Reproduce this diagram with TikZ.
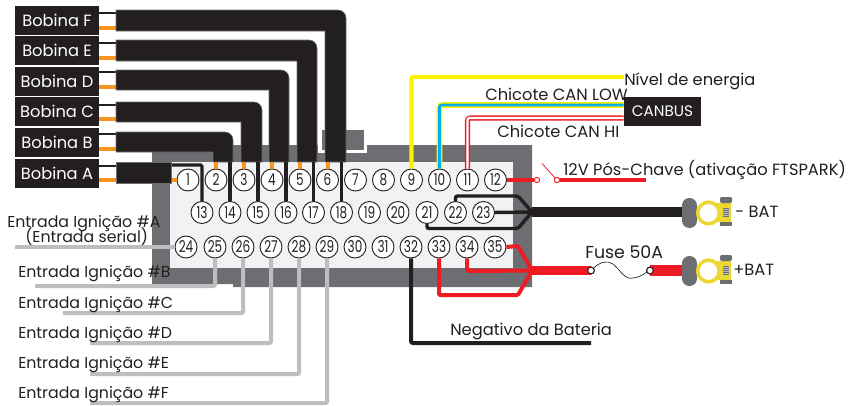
\documentclass[tikz,border=0pt]{standalone}
\usepackage{fontspec}
\usepackage{graphicx}
\setmainfont{Poppins}
\definecolor{ink}{HTML}{231F20}
\definecolor{housing}{HTML}{6D6E71}
\definecolor{panel}{HTML}{F1F2F4}
\definecolor{orng}{HTML}{F7941D}
\definecolor{rd}{HTML}{ED1C24}
\definecolor{ylw}{HTML}{FFF200}
\definecolor{blu}{HTML}{00AEEF}
\definecolor{lgray}{HTML}{BCBEC0}
\definecolor{brass}{HTML}{EBD834}
\newcommand{\coilbundle}[4]{% top, bottom, inner x, outer x
  \fill[ink,draw=housing,line width=0.4pt] (116,#1) -- ({#4-8},#1) .. controls ({#4-3.5},#1) and (#4,{#1+3.5}) .. (#4,{#1+8}) -- (#4,162) -- (#3,162) -- (#3,#2) -- (116,#2) -- cycle;}
\newcommand{\pinnum}[1]{\scalebox{0.74}[1]{#1}}
\newcommand{\terminal}[1]{%
  \begin{scope}[shift={(0,#1)}]
    \fill[housing,rounded corners=5.5pt] (682,-15) rectangle (697,15);
    \fill[brass] (714,-10) -- (731,-10) -- (731,9) -- (714,9) -- cycle;
    \fill[housing,rounded corners=1pt] (720,-16) rectangle (732,-10);
    \fill[housing] (720,9) rectangle (732,13);
    \fill[lgray] (723,-5) rectangle (729,4);
    \foreach \s in {-5,-3,...,4} \draw[housing,line width=0.5pt] (723,\s) -- (729,\s);
    \draw[brass,line width=2.7pt,fill=white] (708.5,0) circle[radius=10.8];
  \end{scope}}
\tikzset{
  coil/.style={fill=ink,text=white,minimum width=63pt,minimum height=21.75pt,inner sep=0,font=\fontsize{12.2}{14}\selectfont},
  pin/.style={circle,draw=ink,line width=0.7pt,fill=white,minimum size=16.5pt,inner sep=0,font=\fontsize{12.2}{12}\selectfont,text=ink},
  lbl/.style={inner sep=0,text=ink,font=\fontsize{12.2}{13}\selectfont,anchor=base west},
  ign/.style={lbl,font=\fontsize{11.85}{13}\selectfont},
  blk/.style={draw=ink,line width=2.3pt},
  stub/.style={draw=ink,line width=1.8pt},
  org/.style={draw=orng,line width=3pt},
  gry/.style={draw=lgray,line width=3pt,rounded corners=1pt},
  redw/.style={draw=rd,line width=3pt,rounded corners=1pt},
  harn/.style={draw=ink,line width=2.6pt,rounded corners=1.5pt},
  tinydot/.style={circle,fill=white,line width=0.75pt,minimum size=4pt,inner sep=0},
  fusedot/.style={circle,draw=ink,fill=white,line width=0.75pt,minimum size=5pt,inner sep=0}
}
\begin{document}
\begin{tikzpicture}[x=0.75pt,y=-0.75pt]
\useasboundingbox (0,0) rectangle (851,405);
% housing
\fill[housing] (152,152) -- (233,152) -- (233,145) -- (532,145) -- (532,287) -- (233,287) -- (233,284) -- (152,284) -- cycle;
\fill[white] (318,130) rectangle (367,152.5);
\fill[housing] (322,130) rectangle (364,150);
\fill[panel] (170,162) rectangle (513,268);
% coil labels
\node[coil] (bF) at (57,20.5) {Bobina F};
\node[coil] (bE) at (57,50.5) {Bobina E};
\node[coil] (bD) at (57,81.5) {Bobina D};
\node[coil] (bC) at (57,111.5) {Bobina C};
\node[coil] (bB) at (57,142.5) {Bobina B};
\node[coil] (bA) at (57,173.5) {Bobina A};
% stubs
\foreach \n/\a/\b in {bF/12.7/28.3,bE/43/58,bD/72/87,bC/105/119,bB/134/149,bA/166/180}{
  \draw[stub] (\n.east |- 0,\a) -- (117,\a);
  \draw[org] (\n.east |- 0,\b) -- (117,\b);
}
% bundles
\coilbundle{10}{31}{325}{346}
\coilbundle{40}{61}{297}{317}
\coilbundle{70}{90}{269}{289}
\coilbundle{102}{122}{241}{262}
\coilbundle{132}{152}{213}{233}
% pins
\foreach \n/\x in {1/188,2/216,3/244,4/272,5/300,6/327.5,7/355.5,8/383.5,9/411.5,10/439.5,11/467.5,12/495.5}
  \node[pin] (p\n) at (\x,180) {\pinnum{\n}};
\foreach \n/\x in {13/202,14/230,15/258,16/286,17/313.5,18/341.5,19/369.5,20/398,21/427,22/455.5,23/483.5}
  \node[pin] (p\n) at (\x,212.5) {\pinnum{\n}};
\foreach \n/\x in {24/186,25/215,26/243,27/271,28/299,29/327,30/355,31/383,32/411,33/439,34/467,35/495}
  \node[pin] (p\n) at (\x,247) {\pinnum{\n}};
% orange pin wires
\foreach \n in {2,3,4,5,6} \draw[org] (p\n.north) -- (p\n.north |- 0,162);
\draw[org] (p1.west) -- (170,180);
% black pin wires
\foreach \n in {14,15,16,17,18} \draw[blk] (p\n.north) -- (p\n.north |- 0,162);
\draw[blk,rounded corners=1pt] (p13.north) -- (p13.north |- 0,165) -- (170,165);
\fill[ink,draw=housing,line width=0.4pt] (116,162) rectangle (171,183);
% CAN etc.
\node[fill=ink,text=white,minimum width=57.75pt,minimum height=21.75pt,inner sep=0,font=\fontsize{11.4}{13}\selectfont] (can) at (662.5,111.5) {CANBUS};
\coordinate (nv) at (624,77);
\draw[draw=ylw,line width=3.2pt,rounded corners=1.5pt] (p9.north) |- (nv);
\draw[draw=ylw,line width=4.2pt,rounded corners=2pt] (p10.north) |- (can.west |- 0,105);
\draw[draw=blu,line width=2pt,rounded corners=1.5pt] (p10.north) |- (can.west |- 0,105);
\draw[draw=rd,line width=3.8pt,rounded corners=2pt] (p11.north) |- (can.west |- 0,118);
\draw[draw=white,line width=1.6pt,rounded corners=1.5pt] (p11.north) |- (can.west |- 0,118);
% switch
\node[tinydot,draw=rd] (s1) at (537,180) {};
\node[tinydot,draw=rd] (s2) at (557,180) {};
\coordinate (s3) at (646,180);
\coordinate (s4) at (542,163.5);
\draw[draw=rd,line width=3.4pt] (p12.east) -- (s1.west);
\draw[draw=rd,line width=3.2pt] (s2.east) -- (s3);
\draw[draw=rd,line width=0.6pt] (s4) -- (s2);
% black harness
\coordinate (hb) at (532,212);
\coordinate (he) at (682,212);
\draw[harn] (p22.north) -- (p22.north |- 0,196) -- (518,196) -- (hb);
\draw[harn] (p21.south) -- (p21.south |- 0,228.5) -- (518,228.5) -- (hb);
\draw[harn] (p23.east) -- (hb);
\draw[draw=ink,line width=7.6pt] (hb) -- (he);
% red harness
\coordinate (rb) at (532,270.5);
\node[fusedot] (f1) at (591,270.5) {};
\node[fusedot] (f2) at (650,270.5) {};
\coordinate (re) at (682,270.5);
\draw[redw] (p35.east) -- (518,246) -- (rb);
\draw[redw] (p34.south) -- (p34.south |- 0,271) -- (rb);
\draw[redw] (p33.south) -- (p33.south |- 0,295) -- (518,295) -- (rb);
\draw[draw=rd,line width=7pt] (rb) -- (f1.center);
\draw[draw=rd,line width=7.6pt] (f2.center) -- (re);
\node[fusedot] at (f1) {};
\node[fusedot] at (f2) {};
\draw[ink,line width=0.5pt] (f1) .. controls (600,262) and (607,260) .. (613,264) .. controls (621,271) and (625,280) .. (633,278) .. controls (641,277) and (645,273) .. (f2);
% negative
\coordinate (neg) at (591,343);
\draw[draw=ink,line width=3pt,rounded corners=1.5pt] (p32.south) |- (neg);
% terminals
\terminal{213}
\terminal{271}
% gray ignition wires
\coordinate (g24) at (15,247);
\coordinate (g25) at (35,286);
\coordinate (g26) at (63,313);
\coordinate (g27) at (90,343);
\coordinate (g28) at (90,374);
\coordinate (g29) at (90,403);
\draw[gry] (p24.west) -- (g24);
\foreach \n in {25,...,29} \draw[gry] (p\n.south) |- (g\n);
% text labels
\node[lbl] (tN) at (624,85) {Nível de energia};
\node[lbl] (tL) at (485,100) {Chicote CAN LOW};
\node[lbl] (tH) at (497,137) {Chicote CAN HI};
\node[lbl] (t12) at (563,175) {12V Pós-Chave (ativação FTSPARK)};
\node[lbl,font=\fontsize{13}{14}\selectfont] (tFu) at (585,258) {Fuse 50A};
\node[lbl] (tNe) at (450,335) {Negativo da Bateria};
\node[lbl] (tM) at (735,217) {- BAT};
\node[lbl] (tP) at (733,275) {+BAT};
\node[ign] (tA) at (7,227) {Entrada Ignição \#A};
\node[ign] (tS) at (25,242) {(Entrada serial)};
\node[ign] (tB) at (18,277) {Entrada Ignição \#B};
\node[ign] (tC) at (18,308) {Entrada Ignição \#C};
\node[ign] (tD) at (18,338) {Entrada Ignição \#D};
\node[ign] (tE) at (18,368) {Entrada Ignição \#E};
\node[ign] (tF) at (18,398) {Entrada Ignição \#F};
\end{tikzpicture}
\end{document}
